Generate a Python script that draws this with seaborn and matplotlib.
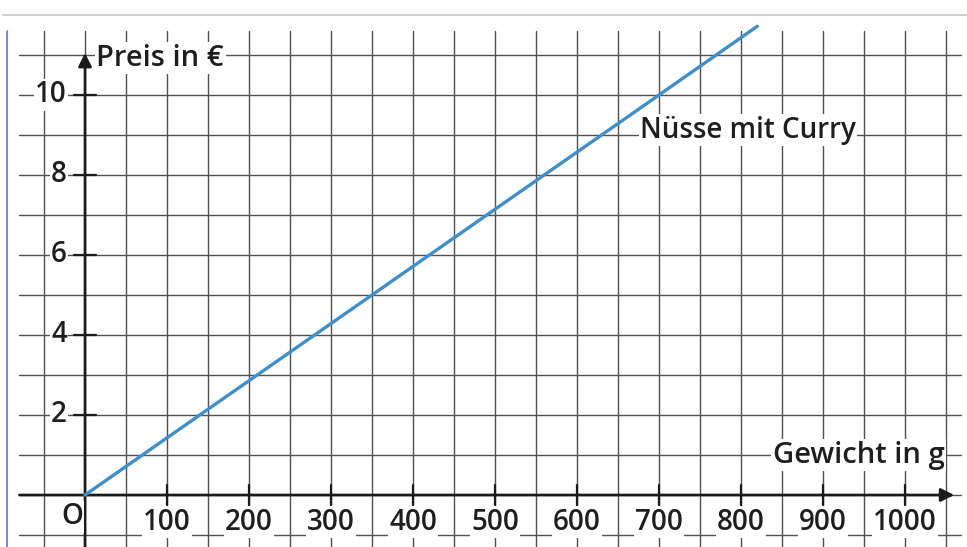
import matplotlib
matplotlib.use("Agg")
import matplotlib.pyplot as plt
import seaborn as sns
import numpy as np
import pandas as pd

# data
weights = [0, 350, 700, 820]          # g
prices = [0, 5, 10, 11.72]            # €
x_tick_values = [100, 200, 300, 400, 500, 600, 700, 800, 900, 1000]
y_tick_values = [2, 4, 6, 8, 10]
series_label = "Nüsse mit Curry"
x_label = "Gewicht in g"
y_label = "Preis in €"

sns.set_theme(style="white")
plt.rcParams['font.family'] = ['Open Sans', 'DejaVu Sans']

fig = plt.figure(figsize=(9.67, 5.47), dpi=100)
ax = fig.add_axes([0, 0, 1, 1])
# pixel mapping: x_px = 85 + 0.82*g ; y_px = 495 - 40*v
ax.set_xlim(-85 / 0.82, (967 - 85) / 0.82)
ax.set_ylim((495 - 547) / 40, 495 / 40)
ax.axis("off")

grid_c = "#505050"
# vertical grid lines every 50 g
for g in np.arange(-50, 1051, 50):
    ax.plot([g, g], [-1.4, 11.6], color=grid_c, lw=1.0, zorder=1)
# horizontal grid lines every 1 €
for v in range(-1, 12):
    ax.plot([-80, 1068], [v, v], color=grid_c, lw=1.0, zorder=1)
# faint top line and left scan edge
ax.plot([-100, 1080], [12, 12], color="#cfcfcf", lw=1.5, zorder=1)
ax.plot([-95, -95], [-1.4, 11.6], color="#6b6bdc", lw=1.2, zorder=1)

# axes with arrows
ax.annotate("", xy=(1060, 0), xytext=(-80, 0),
            arrowprops=dict(arrowstyle="-|>", lw=1.9, color="#1a1a1a",
                            mutation_scale=20, shrinkA=0, shrinkB=0), zorder=3)
ax.annotate("", xy=(0, 11.05), xytext=(0, -1.4),
            arrowprops=dict(arrowstyle="-|>", lw=1.9, color="#1a1a1a",
                            mutation_scale=20, shrinkA=0, shrinkB=0), zorder=3)

# ticks
for g in x_tick_values:
    ax.plot([g, g], [-0.25, 0.25], color="#1a1a1a", lw=1.6, zorder=3)
for v in y_tick_values:
    ax.plot([-14, 14], [v, v], color="#1a1a1a", lw=1.6, zorder=3)

txt_c = "#1e1e1e"
box = dict(facecolor="white", edgecolor="none", pad=1.0)
fs = 20
fw = 600
for g in x_tick_values:
    ax.text(g, -0.68, str(g), ha="center", va="center", fontsize=fs,
            fontweight=fw, color=txt_c, bbox=box, zorder=4)
for v in y_tick_values:
    ax.text(-22, v, str(v), ha="right", va="center", fontsize=fs,
            fontweight=fw, color=txt_c, bbox=box, zorder=4)
ax.text(-16, -0.55, "O", ha="center", va="center", fontsize=fs,
        fontweight=fw, color=txt_c, bbox=box, zorder=4)

ax.text(14, 10.92, y_label, ha="left", va="center", fontsize=fs + 1,
        fontweight=fw, color=txt_c, bbox=box, zorder=4)
ax.text(1048, 1.0, x_label, ha="right", va="center", fontsize=fs + 1,
        fontweight=fw, color=txt_c, bbox=box, zorder=4)
ax.text(677, 9.12, series_label, ha="left", va="center", fontsize=fs,
        fontweight=fw, color=txt_c, bbox=box, zorder=4)

df = pd.DataFrame({"Gewicht": weights, "Preis": prices})
sns.lineplot(data=df, x="Gewicht", y="Preis", ax=ax, color="#3f8fcb",
             lw=2.4, zorder=5, legend=False)
ax.set_xlim(-85 / 0.82, (967 - 85) / 0.82)
ax.set_ylim((495 - 547) / 40, 495 / 40)
ax.axis("off")

fig.savefig("out.png", dpi=100)
